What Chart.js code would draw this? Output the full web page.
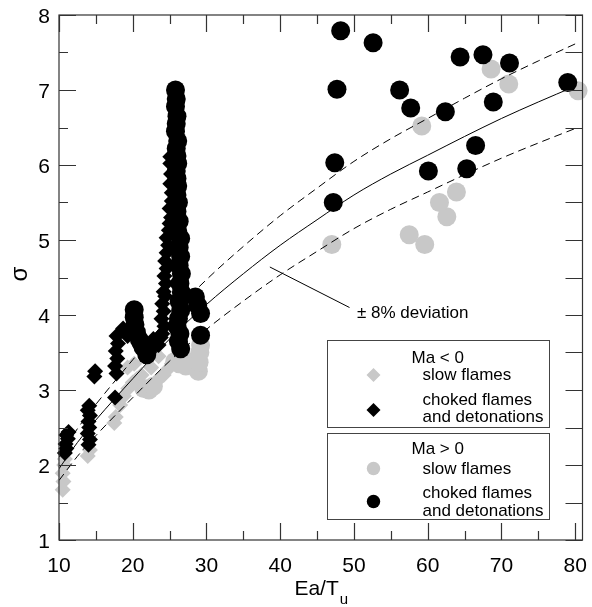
<!DOCTYPE html>
<html>
<head>
<meta charset="utf-8">
<script src="https://cdn.jsdelivr.net/npm/chart.js@4.4.0/dist/chart.umd.min.js"></script>
<style>
    html, body { margin: 0; padding: 0; background: #fff; }
    canvas { display: block; }
</style>
</head>
<body>
<canvas id="myChart" width="592" height="607"></canvas>
<script>
// tick labels
var xTicks = [10, 20, 30, 40, 50, 60, 70, 80];
var yTicks = [1, 2, 3, 4, 5, 6, 7, 8];

// Ma < 0, slow flames  [Ea/Tu, sigma]
var slowNeg = [
    [10.5, 1.67], [10.6, 1.78], [10.5, 1.89], [10.7, 2.0], [10.8, 2.08],
    [13.9, 2.12], [14.2, 2.2], [17.5, 2.56], [17.7, 2.64], [18.3, 2.8],
    [18.8, 2.92], [19.4, 3.02], [20.0, 3.1], [20.6, 3.15], [21.2, 3.2],
    [19.3, 3.3], [20.2, 3.35], [23.0, 3.1], [23.6, 3.15], [24.2, 3.2],
    [24.8, 3.28], [25.3, 3.35], [22.5, 3.3], [23.5, 3.45]
];

// Ma < 0, choked flames and detonations
var chokedNeg = [
    [10.8, 2.16], [11.0, 2.22], [10.9, 2.28], [11.2, 2.35], [11.0, 2.4], [11.3, 2.44],
    [14.0, 2.27], [14.2, 2.34], [13.9, 2.42], [14.1, 2.5], [14.0, 2.58], [14.2, 2.66], [13.9, 2.73], [14.1, 2.79],
    [14.8, 3.18], [14.9, 3.25],
    [17.6, 2.9], [17.8, 3.22], [17.6, 3.32], [17.9, 3.42], [17.7, 3.52], [18.0, 3.62], [17.8, 3.72],
    [18.7, 3.82], [19.3, 3.72], [21.0, 3.7], [22.6, 3.55], [22.8, 3.68], [23.5, 3.6], [23.8, 3.7],
    [24.0, 3.75], [24.3, 3.85], [23.9, 3.95], [24.2, 4.05], [24.0, 4.15], [24.4, 4.25],
    [24.2, 4.31], [24.5, 4.42], [24.3, 4.52], [24.6, 4.62], [24.4, 4.72], [24.6, 4.83],
    [24.8, 4.93], [24.6, 5.03], [24.9, 5.13], [25.0, 5.22], [25.2, 5.3], [25.0, 5.42],
    [25.3, 5.52], [25.3, 5.63], [25.1, 5.75], [25.2, 5.88], [25.1, 6.02], [25.1, 6.11]
];

// Ma > 0, slow flames
var slowPos = [
    [21.5, 3.02], [22.2, 3.0], [22.8, 3.05], [25.7, 3.38], [26.3, 3.35], [27.0, 3.4],
    [27.2, 3.32], [28.9, 3.25], [29.0, 3.37], [29.1, 3.5], [29.2, 3.6],
    [47.0, 4.94], [57.5, 5.07], [59.6, 4.94], [62.6, 5.31], [61.6, 5.5], [63.9, 5.64],
    [59.2, 6.52], [68.6, 7.28], [71.0, 7.08], [80.4, 6.99]
];

// Ma > 0, choked flames and detonations
var chokedPos = [
    [20.2, 4.07], [20.2, 3.97], [20.3, 3.87], [20.5, 3.77], [20.9, 3.67], [21.2, 3.62], [21.4, 3.57], [21.9, 3.47],
    [25.8, 7.0], [25.9, 6.88], [25.8, 6.78], [26.0, 6.65], [25.9, 6.55], [25.8, 6.45],
    [26.1, 6.32], [25.9, 6.22], [26.0, 6.12], [26.1, 6.02], [25.9, 5.92], [26.0, 5.82],
    [26.1, 5.72], [26.0, 5.6], [26.2, 5.5], [26.0, 5.38], [26.3, 5.25], [26.1, 5.12],
    [26.5, 5.02], [26.3, 4.9], [26.5, 4.78], [26.3, 4.66], [26.6, 4.55], [26.4, 4.42],
    [26.6, 4.3], [26.3, 4.18], [26.5, 4.06], [26.2, 3.95], [26.0, 3.85], [26.4, 3.75],
    [26.2, 3.65], [26.5, 3.55],
    [28.5, 4.24], [28.8, 4.13], [29.2, 4.02], [29.2, 3.73],
    [47.2, 5.5], [47.4, 6.03], [47.7, 7.01], [48.2, 7.79], [52.6, 7.63], [56.2, 7.0],
    [57.7, 6.76], [60.1, 5.92], [62.4, 6.71], [64.4, 7.44], [65.3, 5.95], [66.5, 6.26],
    [67.5, 7.47], [68.9, 6.84], [71.1, 7.36], [79.0, 7.10]
];

// correlation curve
var fitX = [10, 12.5, 15, 20, 25, 30, 35, 40, 45, 50, 55, 60, 65, 70, 75, 80];
var fitY = [1.95, 2.30, 2.60, 3.15, 3.68, 4.14, 4.55, 4.93, 5.27, 5.60, 5.88, 6.13, 6.38, 6.62, 6.84, 7.05];
var deviation = 0.08;

// pointer from the "± 8% deviation" note
var pointerX = [38.6, 49.4];
var pointerY = [4.64, 4.10];

function pts(arr) {
    return arr.map(function (p) { return {x: p[0], y: p[1]}; });
}
function curve(k) {
    return fitX.map(function (x, i) { return {x: x, y: fitY[i] * k}; });
}

var GRAY = '#c8c8c8';
var FONT = '"Liberation Sans", Arial, sans-serif';

var lineBase = {
    showLine: true,
    pointRadius: 0,
    borderColor: '#000',
    borderWidth: 1,
    cubicInterpolationMode: 'monotone',
    order: 2
};

// frame, ticks, axis titles, note and the two legend boxes
var decorations = {
    id: 'decorations',
    afterDatasetsDraw: function (chart) {
        var ctx = chart.ctx, a = chart.chartArea;
        var xs = chart.scales.x, ys = chart.scales.y;
        ctx.save();
        ctx.strokeStyle = '#333';
        ctx.lineWidth = 1.2;
        ctx.strokeRect(a.left, a.top, a.right - a.left, a.bottom - a.top);

        ctx.beginPath();
        for (var v = 10; v <= 80; v += 5) {
            var px = Math.round(xs.getPixelForValue(v)) + 0.5;
            var len = (v % 10 === 0) ? 17 : 9;
            ctx.moveTo(px, a.bottom); ctx.lineTo(px, a.bottom - len);
            ctx.moveTo(px, a.top); ctx.lineTo(px, a.top + len);
        }
        for (var s = 1; s <= 8; s += 0.5) {
            var py = Math.round(ys.getPixelForValue(s)) + 0.5;
            var l = (s % 1 === 0) ? 17 : 9;
            ctx.moveTo(a.left, py); ctx.lineTo(a.left + l, py);
            ctx.moveTo(a.right, py); ctx.lineTo(a.right - 17, py);
        }
        ctx.stroke();

        // tick labels
        ctx.fillStyle = '#000';
        ctx.font = '21px ' + FONT;
        ctx.textAlign = 'center';
        ctx.textBaseline = 'alphabetic';
        xTicks.forEach(function (t) {
            ctx.fillText(String(t), xs.getPixelForValue(t), a.bottom + 32);
        });
        ctx.textAlign = 'right';
        yTicks.forEach(function (t) {
            ctx.fillText(String(t), a.left - 9, ys.getPixelForValue(t) + 7.5);
        });

        // x title with subscript
        var main = 'Ea/T', sub = 'u';
        ctx.font = '21px ' + FONT;
        var w1 = ctx.measureText(main).width;
        ctx.font = '15px ' + FONT;
        var w2 = ctx.measureText(sub).width;
        var x0 = (a.left + a.right) / 2 - (w1 + w2) / 2;
        ctx.textAlign = 'left';
        ctx.font = '21px ' + FONT;
        ctx.fillText(main, x0, 595);
        ctx.font = '15px ' + FONT;
        ctx.fillText(sub, x0 + w1 + 1, 604);

        // y title
        ctx.save();
        ctx.translate(27, 274);
        ctx.rotate(-Math.PI / 2);
        ctx.font = '24px ' + FONT;
        ctx.textAlign = 'center';
        ctx.fillText('σ', 0, 0);
        ctx.restore();

        // deviation note
        ctx.font = '17px ' + FONT;
        ctx.textAlign = 'left';
        ctx.fillText('± 8% deviation', 357, 318);

        // legend boxes
        ctx.strokeStyle = '#444';
        ctx.lineWidth = 1;
        ctx.strokeRect(327.5, 340.5, 222, 87);
        ctx.strokeRect(327.5, 433.5, 222, 86);

        function diamond(x, y, r, c) {
            ctx.fillStyle = c;
            ctx.beginPath();
            ctx.moveTo(x - r, y); ctx.lineTo(x, y - r);
            ctx.lineTo(x + r, y); ctx.lineTo(x, y + r);
            ctx.closePath();
            ctx.fill();
        }
        function dot(x, y, r, c) {
            ctx.fillStyle = c;
            ctx.beginPath();
            ctx.arc(x, y, r, 0, Math.PI * 2);
            ctx.fill();
        }
        diamond(373.5, 375, 7, GRAY);
        diamond(373.5, 410, 7, '#000');
        dot(373.5, 468.5, 6.7, GRAY);
        dot(373.5, 501.5, 6.7, '#000');

        ctx.fillStyle = '#000';
        ctx.font = '17px ' + FONT;
        ctx.fillText('Ma < 0', 411.5, 363);
        ctx.fillText('slow flames', 422.5, 380);
        ctx.fillText('choked flames', 422.5, 405);
        ctx.fillText('and detonations', 422.5, 422);
        ctx.fillText('Ma > 0', 411.5, 453.5);
        ctx.fillText('slow flames', 422.5, 473.5);
        ctx.fillText('choked flames', 422.5, 498);
        ctx.fillText('and detonations', 422.5, 516);
        ctx.restore();
    }
};

var config = {
    type: 'scatter',
    data: {
        datasets: [
            {
                label: 'Ma > 0 choked flames and detonations',
                data: pts(chokedPos),
                pointStyle: 'circle',
                pointRadius: 9.5,
                backgroundColor: '#000',
                borderWidth: 0,
                clip: false,
                order: 0
            },
            {
                label: 'Ma < 0 choked flames and detonations',
                data: pts(chokedNeg),
                pointStyle: 'rectRot',
                pointRadius: 8,
                backgroundColor: '#000',
                borderWidth: 0,
                clip: false,
                order: 1
            },
            Object.assign({label: 'fit', data: curve(1)}, lineBase),
            Object.assign({label: '+8%', data: curve(1 + deviation), borderDash: [8, 5]}, lineBase),
            Object.assign({label: '-8%', data: curve(1 - deviation), borderDash: [8, 5]}, lineBase),
            Object.assign({label: 'pointer', data: pts([[pointerX[0], pointerY[0]], [pointerX[1], pointerY[1]]])}, lineBase),
            {
                label: 'Ma > 0 slow flames',
                data: pts(slowPos),
                pointStyle: 'circle',
                pointRadius: 9.5,
                backgroundColor: GRAY,
                borderWidth: 0,
                clip: false,
                order: 3
            },
            {
                label: 'Ma < 0 slow flames',
                data: pts(slowNeg),
                pointStyle: 'rectRot',
                pointRadius: 8,
                backgroundColor: GRAY,
                borderWidth: 0,
                clip: false,
                order: 4
            }
        ]
    },
    options: {
        responsive: false,
        animation: false,
        layout: {
            padding: {left: 59, top: 15, right: 6, bottom: 67}
        },
        scales: {
            x: {type: 'linear', min: 10, max: 81, display: false},
            y: {type: 'linear', min: 1, max: 8, display: false}
        },
        plugins: {
            legend: {display: false},
            tooltip: {enabled: false}
        }
    },
    plugins: [decorations]
};

const ctx = document.getElementById('myChart');
const myChart = new Chart(ctx, config);
</script>
</body>
</html>
